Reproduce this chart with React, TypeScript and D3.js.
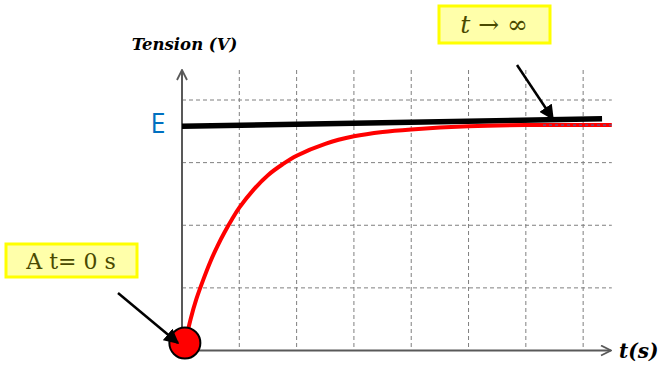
import React from "react";
import * as d3 from "d3";

// grid units: time in divisions, voltage in divisions
const timeValues = [0.05, 0.15, 0.25, 0.375, 0.5, 0.625, 0.75, 0.875, 1, 1.25, 1.5, 1.75, 2, 2.5, 3, 3.5, 4, 5, 6, 7.5];
const voltValues = [0.1, 0.5, 0.82, 1.14, 1.43, 1.68, 1.9, 2.1, 2.28, 2.57, 2.8, 2.97, 3.11, 3.3, 3.42, 3.49, 3.53, 3.58, 3.6, 3.6];
const asymptoteT = [0, 7.33];
const asymptoteV = [3.58, 3.7];
const xGridTicks = [1, 2, 3, 4, 5, 6, 7];
const yGridTicks = [1, 2, 3, 4];
const labelE = "E";
const labelY = "Tension (V)";
const labelX = "t(s)";
const labelZero = "A t= 0 s";

const W = 661;
const H = 368;

export default function App() {
  const x = d3.scaleLinear().domain([0, 7.5]).range([182, 611.8]);
  const y = d3.scaleLinear().domain([0, 4]).range([350.5, 100]);

  const pts: [number, number][] = timeValues.map((t, i) => [x(t), y(voltValues[i])]);
  const curve = d3.line().curve(d3.curveCatmullRom.alpha(0.5))(pts) || "";
  const black = d3.line()(asymptoteT.map((t, i) => [x(t), y(asymptoteV[i])] as [number, number])) || "";

  const gray = "#595959";
  const gridC = "#7f7f7f";

  return (
    <svg width={W} height={H} style={{ position: "absolute", left: 0, top: 0, background: "#fff" }}>
      <defs>
        <marker id="openArrow" viewBox="0 0 12 12" refX="11" refY="6" markerWidth="12" markerHeight="12" markerUnits="userSpaceOnUse" orient="auto">
          <path d="M1,1 L11,6 L1,11" fill="none" stroke={gray} strokeWidth={1.8} />
        </marker>
        <marker id="solidArrow" viewBox="0 0 10 10" refX="9" refY="5" markerWidth="15" markerHeight="15" markerUnits="userSpaceOnUse" orient="auto">
          <path d="M0,0 L10,5 L0,10 Z" fill="#000" />
        </marker>
      </defs>

      {/* grid */}
      {xGridTicks.map((t) => (
        <line key={"vx" + t} x1={x(t)} x2={x(t)} y1={70} y2={y(0)} stroke={gridC} strokeWidth={1} strokeDasharray="4 3" />
      ))}
      {yGridTicks.map((v) => (
        <line key={"hy" + v} x1={x(0)} x2={x(7.5)} y1={y(v)} y2={y(v)} stroke={gridC} strokeWidth={1} strokeDasharray="4 3" />
      ))}

      {/* axes */}
      <line x1={x(0)} x2={x(0)} y1={y(0)} y2={70} stroke={gray} strokeWidth={2} markerEnd="url(#openArrow)" />
      <line x1={x(0)} x2={611} y1={y(0)} y2={y(0)} stroke={gray} strokeWidth={2} markerEnd="url(#openArrow)" />

      {/* asymptote black line */}
      <path d={black} stroke="#000" strokeWidth={5.5} fill="none" />

      {/* red curve */}
      <path d={curve} stroke="#ff0000" strokeWidth={4} fill="none" />
      <line x1={x(6.3)} x2={x(7.5)} y1={y(3.6)} y2={y(3.6)} stroke="#2e75b6" strokeWidth={1} strokeDasharray="3 3" />

      {/* origin circle */}
      <circle cx={x(0.05)} cy={y(0.12)} r={15.5} fill="#ff0000" stroke="#000" strokeWidth={2} />

      {/* labels */}
      <text x={184.5} y={50} textAnchor="middle" fontFamily="'DejaVu Serif', serif" fontWeight="bold" fontStyle="italic" fontSize={16.5} fill="#000">{labelY}</text>
      <text x={158} y={133} textAnchor="middle" fontFamily="'Open Sans', 'DejaVu Sans', sans-serif" fontSize={27} fill="#0070c0">{labelE}</text>
      <text x={619} y={358} fontFamily="'DejaVu Serif', serif" fontWeight="bold" fontStyle="italic" fontSize={20} fill="#000">{labelX}</text>

      {/* annotation boxes */}
      <rect x={439} y={6} width={111} height={37} fill="#ffffaa" stroke="#ffff00" strokeWidth={3} />
      <text x={494} y={33} textAnchor="middle" fontFamily="'DejaVu Serif', serif" fontSize={25} fill="#4a4a00">
        <tspan fontStyle="italic">t</tspan> {"\u2192 \u221E"}
      </text>
      <rect x={6} y={244} width={131} height={33} fill="#ffffaa" stroke="#ffff00" strokeWidth={3} />
      <text x={71} y={268.5} textAnchor="middle" fontFamily="'DejaVu Serif', serif" fontSize={22} fill="#4a4a00">{labelZero}</text>

      {/* arrows */}
      <line x1={517} y1={65} x2={553} y2={119} stroke="#000" strokeWidth={2.5} markerEnd="url(#solidArrow)" />
      <line x1={118} y1={293} x2={178} y2={343} stroke="#000" strokeWidth={2.5} markerEnd="url(#solidArrow)" />
    </svg>
  );
}
